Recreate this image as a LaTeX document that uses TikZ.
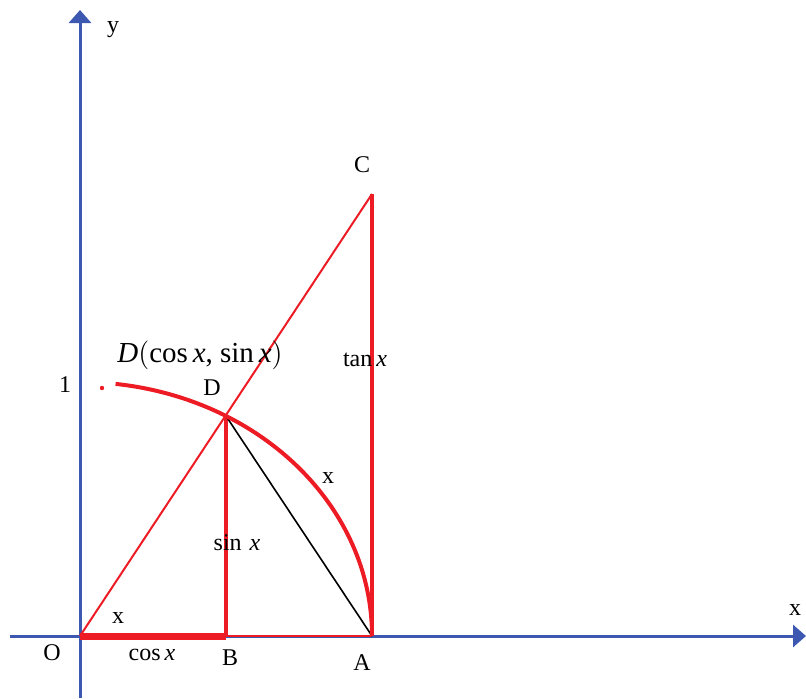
\documentclass[tikz,border=0pt]{standalone}
\usepackage{fontspec}
\setmainfont{Liberation Serif}
\usetikzlibrary{arrows.meta}
\definecolor{axisblue}{RGB}{60,88,176}
\definecolor{trigred}{RGB}{237,28,36}
\tikzset{
  axisline/.style={line width=1.5pt, draw=axisblue,
    -{Triangle[length=6.5pt,width=11pt]}},
  redline/.style={draw=trigred, line width=1pt},
  thickred/.style={draw=trigred, line width=2pt},
  chord/.style={draw=black, line width=.8pt},
  lbl/.style={inner sep=0pt, font=\fontsize{12}{14}\selectfont}
}
\begin{document}
\begin{tikzpicture}[x=0.5pt,y=0.5pt]
  \useasboundingbox (-80,-62) rectangle (726,636);
  % points of the figure
  \coordinate (O) at (0,0);
  \coordinate (A) at (292,0);
  \coordinate (B) at (146,0);
  \coordinate (C) at (292,442);
  \coordinate (D) at (146,220);
  \coordinate (xstart) at (-70,0);
  \coordinate (xend) at (726,0);
  \coordinate (ystart) at (0,-62);
  \coordinate (yend) at (0,626);

  % axes
  \draw[axisline] (xstart) -- (xend);
  \draw[axisline] (ystart) -- (yend);

  % triangle and segments
  \draw[redline] (O) -- (C);
  \draw[draw=trigred, line width=1.2pt] (B) -- (A);
  \draw[draw=trigred, line width=3.5pt] (O) -- (B);
  \draw[thickred] (D) -- (B);
  \draw[thickred] (A) -- (C);
  \draw[chord] (D) -- (A);
  \draw[thickred] (A) arc[start angle=0, end angle=83, x radius=292, y radius=254];
  \fill[trigred] (22,248) circle (2.2);

  % labels
  \node[lbl] (ylab) at (33,606) {y};
  \node[lbl] (xlab) at (715,26) {x};
  \node[lbl] (one) at (-15,251) {1};
  \node[lbl, font=\fontsize{14.5}{16}\selectfont] (Dcoord) at (120,281)
    {\textit{D}$\Big($cos\,\textit{x}, sin\,\textit{x}$\Big)$};
  \node[lbl] (Dlab) at (132,248) {D};
  \node[lbl] (tanlab) at (285,276) {tan\,\textit{x}};
  \node[lbl] (arclab) at (248,158) {x};
  \node[lbl] (sinlab) at (157,93) {sin\,\,\textit{x}};
  \node[lbl] (anglab) at (38,18) {x};
  \node[lbl] (Olab) at (-28,-17) {O};
  \node[lbl] (coslab) at (72,-19) {cos\,\textit{x}};
  \node[lbl] (Blab) at (150,-22) {B};
  \node[lbl] (Alab) at (282,-27) {A};
  \node[lbl] (Clab) at (282,471) {C};
\end{tikzpicture}
\end{document}
